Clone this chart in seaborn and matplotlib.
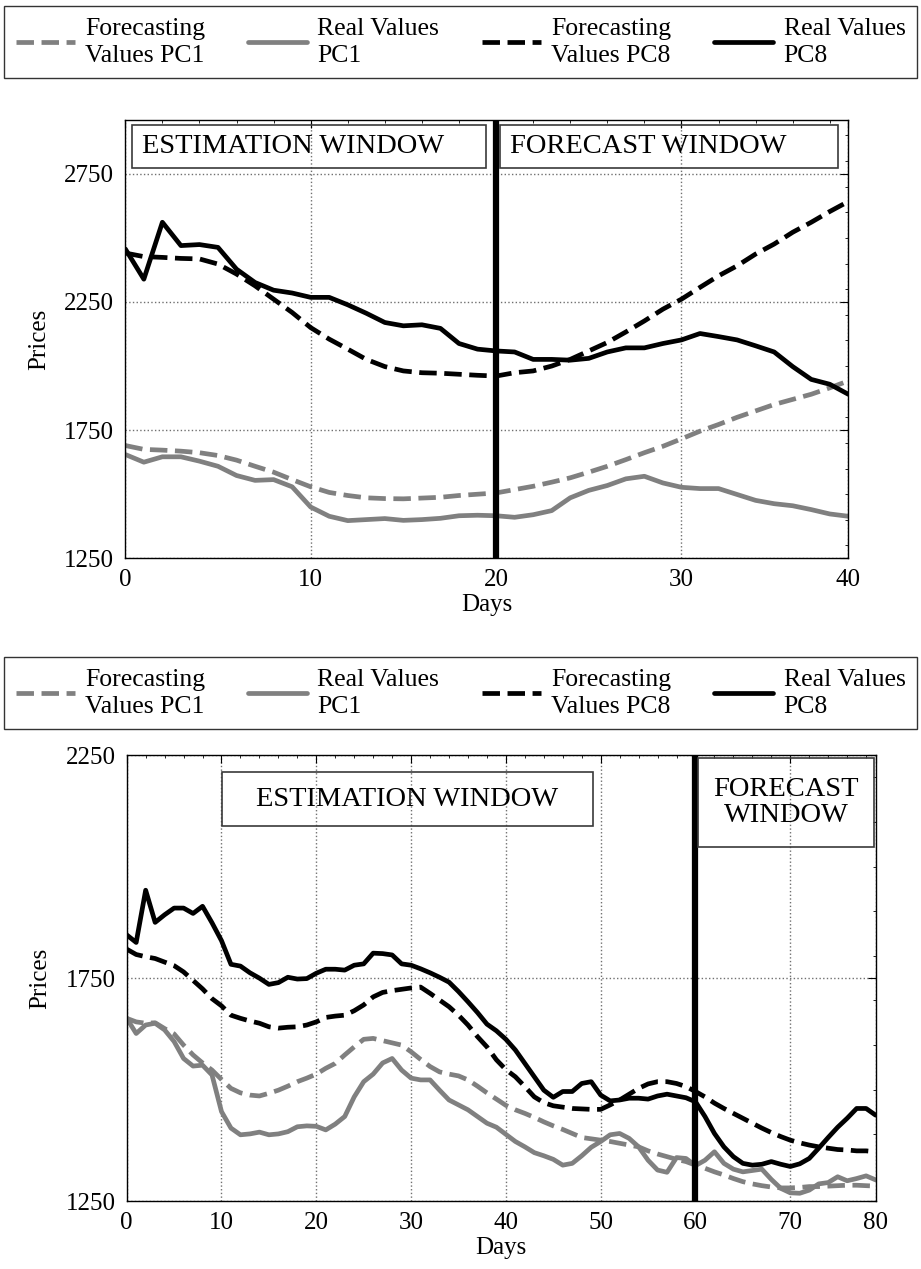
import numpy as np
import pandas as pd
import matplotlib
matplotlib.use("Agg")
import matplotlib.pyplot as plt
import seaborn as sns
from matplotlib.patches import Rectangle
from matplotlib.ticker import FixedLocator, MultipleLocator

sns.set_theme(style="white")
plt.rcParams["font.family"] = ["Liberation Serif", "DejaVu Serif"]
for k in ["text.color", "axes.labelcolor", "xtick.color", "ytick.color",
          "axes.edgecolor"]:
    plt.rcParams[k] = "black"

# ---------------- data ----------------
labels = ["Forecasting\nValues PC1", "Real Values\nPC1",
          "Forecasting\nValues PC8", "Real Values\nPC8"]

# top chart (40 days)
top_days = list(range(40))
top_fc_pc1 = [1690, 1675, 1672, 1668, 1662, 1651, 1633, 1609, 1586, 1557,
              1529, 1507, 1495, 1486, 1483, 1482, 1485, 1488, 1495, 1500,
              1505, 1518, 1531, 1547, 1564, 1586, 1609, 1635, 1662, 1687,
              1716, 1746, 1772, 1800, 1825, 1850, 1870, 1890, 1915, 1942]
top_real_pc1 = [1655, 1625, 1646, 1646, 1629, 1609, 1573, 1554, 1557, 1529,
                1450, 1414, 1397, 1401, 1405, 1398, 1401, 1406, 1416, 1418,
                1416, 1410, 1420, 1436, 1486, 1515, 1534, 1560, 1570, 1544,
                1527, 1522, 1522, 1499, 1476, 1463, 1455, 1440, 1423, 1414]
top_fc_pc8 = [2441, 2427, 2424, 2420, 2418, 2398, 2359, 2313, 2261, 2209,
              2150, 2105, 2066, 2026, 1998, 1981, 1974, 1972, 1968, 1964,
              1961, 1974, 1981, 2000, 2026, 2059, 2092, 2133, 2176, 2222,
              2261, 2307, 2352, 2391, 2437, 2476, 2522, 2561, 2603, 2642]
top_real_pc8 = [2457, 2339, 2561, 2470, 2474, 2463, 2378, 2326, 2296, 2285,
                2268, 2268, 2239, 2206, 2170, 2157, 2161, 2147, 2088, 2066,
                2059, 2055, 2026, 2026, 2023, 2030, 2055, 2071, 2071, 2088,
                2102, 2127, 2115, 2102, 2079, 2055, 1998, 1948, 1929, 1890]
top_split = 20
top_xticks = [0, 10, 20, 30, 39]
top_xticklabels = ["0", "10", "20", "30", "40"]
top_yticks = [1250, 1750, 2250, 2750]
top_ylim = (1250, 2960)

# bottom chart (80 days)
bot_days = list(range(80))
bot_fc_pc1 = [1660, 1652, 1649, 1650, 1637, 1625, 1600, 1578, 1560, 1544,
              1523, 1503, 1493, 1488, 1486, 1492, 1499, 1508, 1518, 1526,
              1535, 1548, 1559, 1578, 1596, 1613, 1615, 1610, 1605, 1600,
              1585, 1568, 1552, 1540, 1535, 1531, 1522, 1508, 1493, 1479,
              1465, 1455, 1447, 1438, 1428, 1419, 1411, 1402, 1393, 1390,
              1387, 1384, 1380, 1376, 1372, 1363, 1356, 1350, 1344, 1339,
              1331, 1324, 1316, 1309, 1301, 1294, 1289, 1285, 1282, 1280,
              1280, 1281, 1283, 1283, 1284, 1285, 1286, 1286, 1285, 1284]
bot_real_pc1 = [1660, 1626, 1645, 1649, 1634, 1608, 1570, 1553, 1555, 1533,
                1451, 1414, 1399, 1401, 1405, 1399, 1401, 1406, 1417, 1419,
                1418, 1410, 1423, 1440, 1484, 1518, 1535, 1560, 1570, 1544,
                1526, 1522, 1522, 1499, 1477, 1466, 1455, 1440, 1425, 1416,
                1400, 1384, 1372, 1359, 1352, 1344, 1331, 1335, 1352, 1371,
                1384, 1399, 1402, 1391, 1372, 1342, 1320, 1315, 1348, 1346,
                1330, 1342, 1361, 1335, 1322, 1316, 1319, 1322, 1299, 1279,
                1269, 1268, 1275, 1289, 1292, 1305, 1296, 1301, 1307, 1298]
bot_fc_pc8 = [1815, 1803, 1798, 1794, 1786, 1778, 1764, 1745, 1726, 1704,
              1688, 1667, 1660, 1654, 1649, 1641, 1638, 1640, 1641, 1645,
              1652, 1662, 1665, 1667, 1677, 1690, 1708, 1718, 1722, 1725,
              1728, 1730, 1716, 1701, 1686, 1667, 1645, 1619, 1596, 1567,
              1545, 1529, 1507, 1484, 1471, 1464, 1461, 1458, 1457, 1456,
              1456, 1466, 1477, 1490, 1503, 1513, 1518, 1518, 1514, 1507,
              1496, 1484, 1470, 1458, 1447, 1436, 1425, 1414, 1404, 1395,
              1387, 1381, 1376, 1372, 1369, 1366, 1365, 1363, 1363, 1361]
bot_real_pc8 = [1847, 1830, 1947, 1875, 1892, 1907, 1907, 1895, 1911, 1874,
                1834, 1781, 1777, 1762, 1750, 1736, 1740, 1752, 1748, 1749,
                1761, 1770, 1770, 1768, 1779, 1782, 1806, 1805, 1802, 1782,
                1779, 1771, 1762, 1752, 1741, 1720, 1697, 1673, 1647, 1632,
                1613, 1589, 1559, 1529, 1499, 1483, 1496, 1496, 1514, 1518,
                1488, 1475, 1477, 1481, 1481, 1479, 1486, 1490, 1486, 1482,
                1473, 1440, 1402, 1372, 1350, 1335, 1331, 1333, 1339, 1333,
                1328, 1334, 1346, 1369, 1393, 1416, 1436, 1458, 1458, 1443]
bot_split = 60
bot_xticks = [0, 10, 20, 30, 40, 50, 60, 70, 79]
bot_xticklabels = ["0", "10", "20", "30", "40", "50", "60", "70", "80"]
bot_yticks = [1250, 1750, 2250]
bot_ylim = (1250, 2250)

GRAY = "#808080"
BLACK = "#000000"
W, H = 921, 1269

fig = plt.figure(figsize=(W / 100, H / 100), dpi=100)
fig.patch.set_facecolor("white")


def axes_px(x0, y0, x1, y1):
    return fig.add_axes([x0 / W, 1 - y1 / H, (x1 - x0) / W, (y1 - y0) / H])


ax1 = axes_px(125.3, 120, 848.3, 558.3)
ax2 = axes_px(126.7, 755, 875.6, 1201.3)


def draw(ax, days, fc1, r1, fc8, r8, split, xticks, xtl, yticks, ylim):
    df = pd.DataFrame({"day": days, "fc1": fc1, "r1": r1, "fc8": fc8, "r8": r8})
    sns.lineplot(data=df, x="day", y="fc1", ax=ax, color=GRAY, lw=3.4,
                 linestyle="--", legend=False)
    sns.lineplot(data=df, x="day", y="r1", ax=ax, color=GRAY, lw=3.4,
                 linestyle="-", legend=False)
    sns.lineplot(data=df, x="day", y="fc8", ax=ax, color=BLACK, lw=3.4,
                 linestyle="--", legend=False)
    sns.lineplot(data=df, x="day", y="r8", ax=ax, color=BLACK, lw=3.4,
                 linestyle="-", legend=False)
    handles = list(ax.lines[:4])
    ax.axvline(split, color=BLACK, lw=4.5, zorder=5)
    ax.set_xlim(days[0], days[-1])
    ax.set_ylim(*ylim)
    ax.xaxis.set_major_locator(FixedLocator(xticks))
    ax.set_xticklabels(xtl)
    ax.yaxis.set_major_locator(FixedLocator(yticks))
    ax.xaxis.set_minor_locator(MultipleLocator(2))
    ax.yaxis.set_minor_locator(MultipleLocator(100))
    ax.grid(True, which="major", linestyle=":", color="#707070", linewidth=1.0)
    ax.set_axisbelow(True)
    ax.tick_params(which="major", direction="in", top=True, right=True,
                   length=6, width=0.8, labelsize=18, pad=8, colors=BLACK)
    ax.tick_params(which="minor", direction="in", top=True, right=True,
                   length=2.5, width=0.6)
    for s in ax.spines.values():
        s.set_color(BLACK)
        s.set_linewidth(1.0)
    ax.set_xlabel("Days", fontsize=18, labelpad=2)
    ax.set_ylabel("Prices", fontsize=18, labelpad=10)
    return handles


h1 = draw(ax1, top_days, top_fc_pc1, top_real_pc1, top_fc_pc8, top_real_pc8,
          top_split, top_xticks, top_xticklabels, top_yticks, top_ylim)
h2 = draw(ax2, bot_days, bot_fc_pc1, bot_real_pc1, bot_fc_pc8, bot_real_pc8,
          bot_split, bot_xticks, bot_xticklabels, bot_yticks, bot_ylim)


def legend_at(handles, top_px):
    leg = fig.legend(handles, labels, loc="upper left",
                     bbox_to_anchor=(4 / W, 1 - top_px / H, 913 / W, 0),
                     mode="expand", ncol=4, frameon=True, fancybox=False,
                     edgecolor=BLACK, fontsize=18.5, handlelength=2.3,
                     handletextpad=0.4, borderaxespad=0, borderpad=0.45,
                     columnspacing=0.4)
    leg.get_frame().set_linewidth(1.0)
    for t in leg.get_texts():
        t.set_linespacing(1.3)
        t.set_color(BLACK)
    return leg


legend_at(h1, 6)
legend_at(h2, 657)


def box_px(x0, y0, x1, y1, text, ha="left", tx=None):
    fig.add_artist(Rectangle((x0 / W, 1 - y1 / H), (x1 - x0) / W, (y1 - y0) / H,
                             transform=fig.transFigure, facecolor="none",
                             edgecolor="#3a3a3a", linewidth=1.2, zorder=10))
    if tx is None:
        tx = x0 + 10 if ha == "left" else (x0 + x1) / 2
    fig.text(tx / W, 1 - ((y0 + y1) / 2) / H, text, ha=ha, va="center",
             fontsize=20.5, linespacing=1.05, zorder=11, color=BLACK)


box_px(132, 125, 486, 168, "ESTIMATION WINDOW")
box_px(500, 125, 838, 168, "FORECAST WINDOW")
box_px(222, 772, 593, 826, "ESTIMATION WINDOW", ha="center")
box_px(698, 758, 874, 847, "FORECAST\nWINDOW", ha="center")

fig.savefig("out.png", dpi=100, facecolor="white")
